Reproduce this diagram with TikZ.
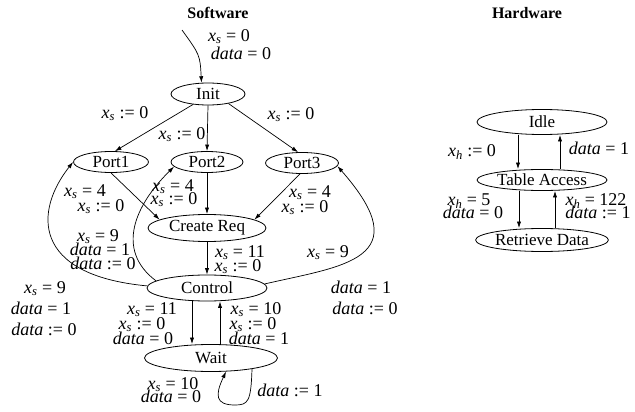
\documentclass[tikz,border=0pt]{standalone}
\usepackage{fontspec}
\setmainfont{Liberation Serif}
\usetikzlibrary{shapes.geometric,arrows.meta}
\newcommand{\xs}{\textit{x}\textsubscript{\textit{s}}}
\newcommand{\xh}{\textit{x}\textsubscript{\textit{h}}}
\newcommand{\dat}{\textit{data}}
\tikzset{
  state/.style={ellipse, draw, line width=0.8pt, inner sep=0pt, font=\fontsize{17}{19}\selectfont},
  lab/.style={inner sep=0pt, text height=10pt, text depth=1.5pt, font=\fontsize{18}{20}\selectfont},
  head/.style={inner sep=0pt, font=\fontsize{16}{18}\selectfont\bfseries},
  edge/.style={line width=0.7pt, -{Latex[length=6.5pt,width=4.2pt]}}
}
\begin{document}
\begin{tikzpicture}[x=1pt,y=-1pt]
\useasboundingbox (0,0) rectangle (635,412);
% headers
\node[head] (hsw) at (218,13) {Software};
\node[head] (hhw) at (527,13) {Hardware};
% software states
\node[state, minimum width=74pt, minimum height=22pt] (init) at (208,94) {Init};
\node[state, minimum width=75pt, minimum height=21pt] (port1) at (111,162) {Port1};
\node[state, minimum width=72pt, minimum height=21pt] (port2) at (207,162) {Port2};
\node[state, minimum width=73pt, minimum height=21pt] (port3) at (302,163) {Port3};
\node[state, minimum width=118pt, minimum height=27pt] (cr) at (207,228) {Create Req};
\node[state, minimum width=120pt, minimum height=26pt] (control) at (207,288) {Control};
\node[state, minimum width=133pt, minimum height=27pt] (wait) at (211,358) {Wait};
% hardware states
\node[state, minimum width=130pt, minimum height=25pt] (idle) at (542,122) {Idle};
\node[state, minimum width=130pt, minimum height=21pt] (ta) at (542,180) {Table Access};
\node[state, minimum width=130pt, minimum height=23pt] (rd) at (542,240) {Retrieve Data};
% initial edge
\coordinate (start) at (182,30);
\draw[edge] (start) .. controls (200,55) .. (init.120);
\node[lab] (l0a) at (229,37) {\xs{} = 0};
\node[lab] (l0b) at (241,55) {\dat{} = 0};
% Init edges
\draw[edge] (init.215) -- (port1.70);
\draw[edge] (init.south) -- (port2.north);
\draw[edge] (init.-25) -- (port3.110);
\node[lab] (l1) at (125,114) {\xs{} := 0};
\node[lab] (l2) at (182,135) {\xs{} := 0};
\node[lab] (l3) at (291,115) {\xs{} := 0};
% Port -> Create Req
\draw[edge] (port1.-90) -- (cr.170);
\draw[edge] (port2.south) -- (cr.north);
\draw[edge] (port3.-100) -- (cr.10);
\node[lab] (l4a) at (85,192) {\xs{} = 4};
\node[lab] (l4b) at (101,207) {\xs{} := 0};
\node[lab] (l5a) at (173,187) {\xs{} = 4};
\node[lab] (l5b) at (174,200) {\xs{} := 0};
\node[lab] (l6a) at (310,193) {\xs{} = 4};
\node[lab] (l6b) at (305,208) {\xs{} := 0};
% Create Req -> Control
\draw[edge] (cr.south) -- (control.north);
\node[lab] (l7a) at (240,253) {\xs{} = 11};
\node[lab] (l7b) at (238,267) {\xs{} := 0};
% Control -> Ports
\draw[edge] (control.178) .. controls (30,275) and (35,210) .. (port1.west);
\draw[edge] (control.172) .. controls (115,250) and (135,205) .. (port2.188);
\draw[edge] (control.4) .. controls (342,266) and (420,260) .. (port3.-5);
\node[lab] (l8a) at (98,237) {\xs{} = 9};
\node[lab] (l8b) at (100,251) {\dat{} = 1};
\node[lab] (l8c) at (103,265) {\dat{} := 0};
\node[lab] (l9a) at (45,289) {\xs{} = 9};
\node[lab] (l9b) at (41,310) {\dat{} = 1};
\node[lab] (l9c) at (44,331) {\dat{} := 0};
\node[lab] (l10a) at (328,253) {\xs{} = 9};
\node[lab] (l10b) at (361,289) {\dat{} = 1};
\node[lab] (l10c) at (365,310) {\dat{} := 0};
% Control <-> Wait
\draw[edge] ([xshift=-15pt]control.south) -- ([xshift=-19pt]wait.north);
\draw[edge] ([xshift=9pt]wait.north) -- ([xshift=13pt]control.south);
\node[lab] (l11a) at (152,310) {\xs{} = 11};
\node[lab] (l11b) at (142,325) {\xs{} := 0};
\node[lab] (l11c) at (143,340) {\dat{} = 0};
\node[lab] (l12a) at (256,310) {\xs{} = 10};
\node[lab] (l12b) at (253,325) {\xs{} := 0};
\node[lab] (l12c) at (259,340) {\dat{} = 1};
% Wait self loop
\draw[edge] (wait.-15) .. controls (251,402) and (248,405) .. (235,405) .. controls (215,405) and (215,395) .. (wait.-42);
\node[lab] (l13a) at (173,385) {\xs{} = 10};
\node[lab] (l13b) at (171,398) {\dat{} = 0};
\node[lab] (l13c) at (290,392) {\dat{} := 1};
% hardware edges
\draw[edge] ([xshift=-24pt]idle.south) -- ([xshift=-24pt]ta.north);
\draw[edge] ([xshift=18pt]ta.north) -- ([xshift=18pt]idle.south);
\draw[edge] ([xshift=-23pt]ta.south) -- ([xshift=-23pt]rd.north);
\draw[edge] ([xshift=13pt]rd.north) -- ([xshift=13pt]ta.south);
\node[lab] (h1) at (472,152) {\xh{} := 0};
\node[lab] (h2) at (599,150) {\dat{} = 1};
\node[lab] (h3a) at (469,201) {\xh{} = 5};
\node[lab] (h3b) at (473,214) {\dat{} = 0};
\node[lab] (h4a) at (596,201) {\xh{} = 122};
\node[lab] (h4b) at (598,214) {\dat{} := 1};
\end{tikzpicture}
\end{document}
